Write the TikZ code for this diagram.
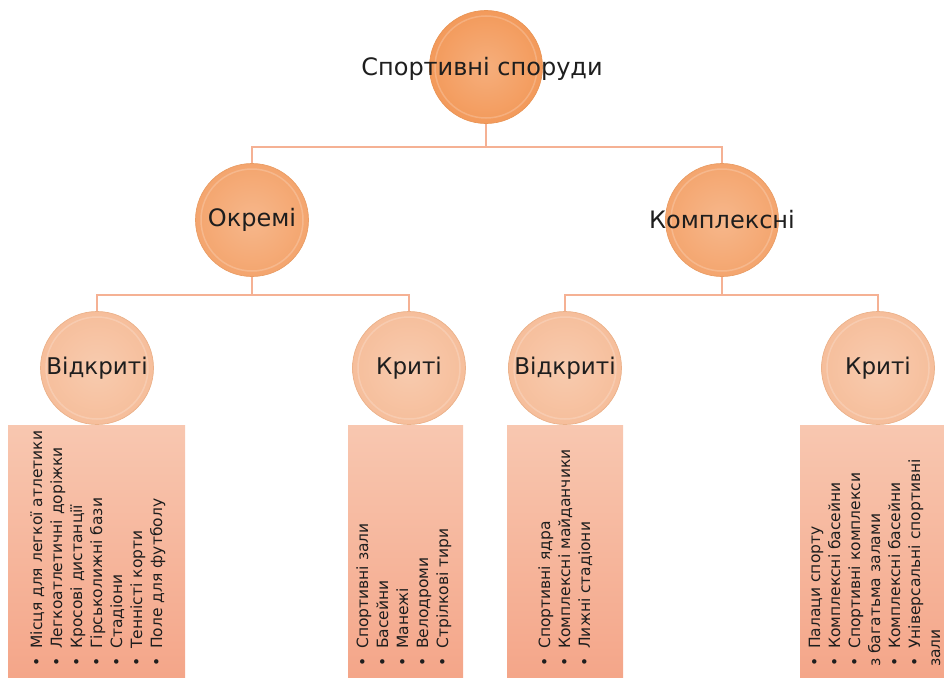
\documentclass[tikz,border=0pt]{standalone}
\usepackage{fontspec}
\setmainfont{DejaVu Sans}
\usetikzlibrary{positioning}

\definecolor{rootc}{HTML}{F39A5B}
\definecolor{midc}{HTML}{F4A56E}
\definecolor{leafc}{HTML}{F6BE9B}
\definecolor{linkc}{HTML}{F5B194}
\definecolor{boxtop}{HTML}{F8C7B0}
\definecolor{boxbot}{HTML}{F4A487}
\definecolor{inkc}{HTML}{1E1E1E}

\newcommand{\dotitem}{\textbullet\hspace{9pt}}

\begin{document}
\begin{tikzpicture}
    [
    x=1pt, y=-1pt,
    ball/.style={circle, inner sep=0pt, minimum size=113pt, line width=0.7pt,
      draw=#1!80!brown, inner color=#1!80!white, outer color=#1,
      path picture={\draw[white, opacity=0.2, line width=1.5pt]
        (path picture bounding box.center) circle (51pt);}},
    title/.style={text=inkc, font=\fontsize{24}{28}\selectfont},
    leaf/.style={text=inkc, font=\fontsize{23}{27}\selectfont},
    link/.style={draw=linkc, line width=1.3pt},
    listbox/.style={top color=boxtop, bottom color=boxbot},
    item/.style={rotate=90, anchor=base west, inner sep=0pt, text=inkc,
      font=\fontsize{15.5}{20}\selectfont},
    ]
    \useasboundingbox (0,0) rectangle (944,677);
    \clip (0,0) rectangle (944,677);

    % lists under the bottom row
    \path [listbox] (8,425) rectangle (185,690);
    \path [listbox] (348,425) rectangle (463,690);
    \path [listbox] (507,425) rectangle (623,690);
    \path [listbox] (800,425) rectangle (950,690);

    \foreach \t [count=\i from 0] in {\dotitem Місця для легкої атлетики,
      \dotitem Легкоатлетичні доріжки, \dotitem Кросові дистанції,
      \dotitem Гірськолижні бази, \dotitem Стадіони,
      \dotitem Тенністі корти, \dotitem Поле для футболу}
      \node (a\i) [item] at (42+20*\i,667) {\t};

    \foreach \t [count=\i from 0] in {\dotitem Спортивні зали,
      \dotitem Басейни, \dotitem Манежі, \dotitem Велодроми,
      \dotitem Стрілкові тири}
      \node (b\i) [item] at (368+20*\i,667) {\t};

    \foreach \t [count=\i from 0] in {\dotitem Спортивні ядра,
      \dotitem Комплексні майданчики, \dotitem Лижні стадіони}
      \node (c\i) [item] at (550+20*\i,667) {\t};

    \foreach \t [count=\i from 0] in {\dotitem Палаци спорту,
      \dotitem Комплексні басейни, \dotitem Спортивні комплекси,
      з багатьма залами, \dotitem Комплексні басейни,
      \dotitem Універсальні спортивні, зали}
      \node (d\i) [item] at (820+20*\i,667) {\t};

    % tree
    \node (root) at (486,67) [ball=rootc] {};
    \node (rootlbl) at (482,69) [title] {Спортивні споруди};

    \node (okr) at (252,220) [ball=midc] {};
    \node (okrlbl) at (okr) [title] {Окремі};
    \node (kom) at (722,220) [ball=midc] {};
    \node (komlbl) at (kom) [title] {Комплексні};

    \node (vid1) at (97,368) [ball=leafc] {};
    \node (vid1lbl) at (vid1) [leaf] {Відкриті};
    \node (kr1) at (409,368) [ball=leafc] {};
    \node (kr1lbl) at (kr1) [leaf] {Криті};
    \node (vid2) at (565,368) [ball=leafc] {};
    \node (vid2lbl) at (vid2) [leaf] {Відкриті};
    \node (kr2) at (878,368) [ball=leafc] {};
    \node (kr2lbl) at (kr2) [leaf] {Криті};

    \draw [link] (root.south) -- ++(0,23) -| (okr.north);
    \draw [link] (root.south) -- ++(0,23) -| (kom.north);
    \draw [link] (okr.south) -- ++(0,18) -| (vid1.north);
    \draw [link] (okr.south) -- ++(0,18) -| (kr1.north);
    \draw [link] (kom.south) -- ++(0,18) -| (vid2.north);
    \draw [link] (kom.south) -- ++(0,18) -| (kr2.north);
  \end{tikzpicture}
\end{document}
